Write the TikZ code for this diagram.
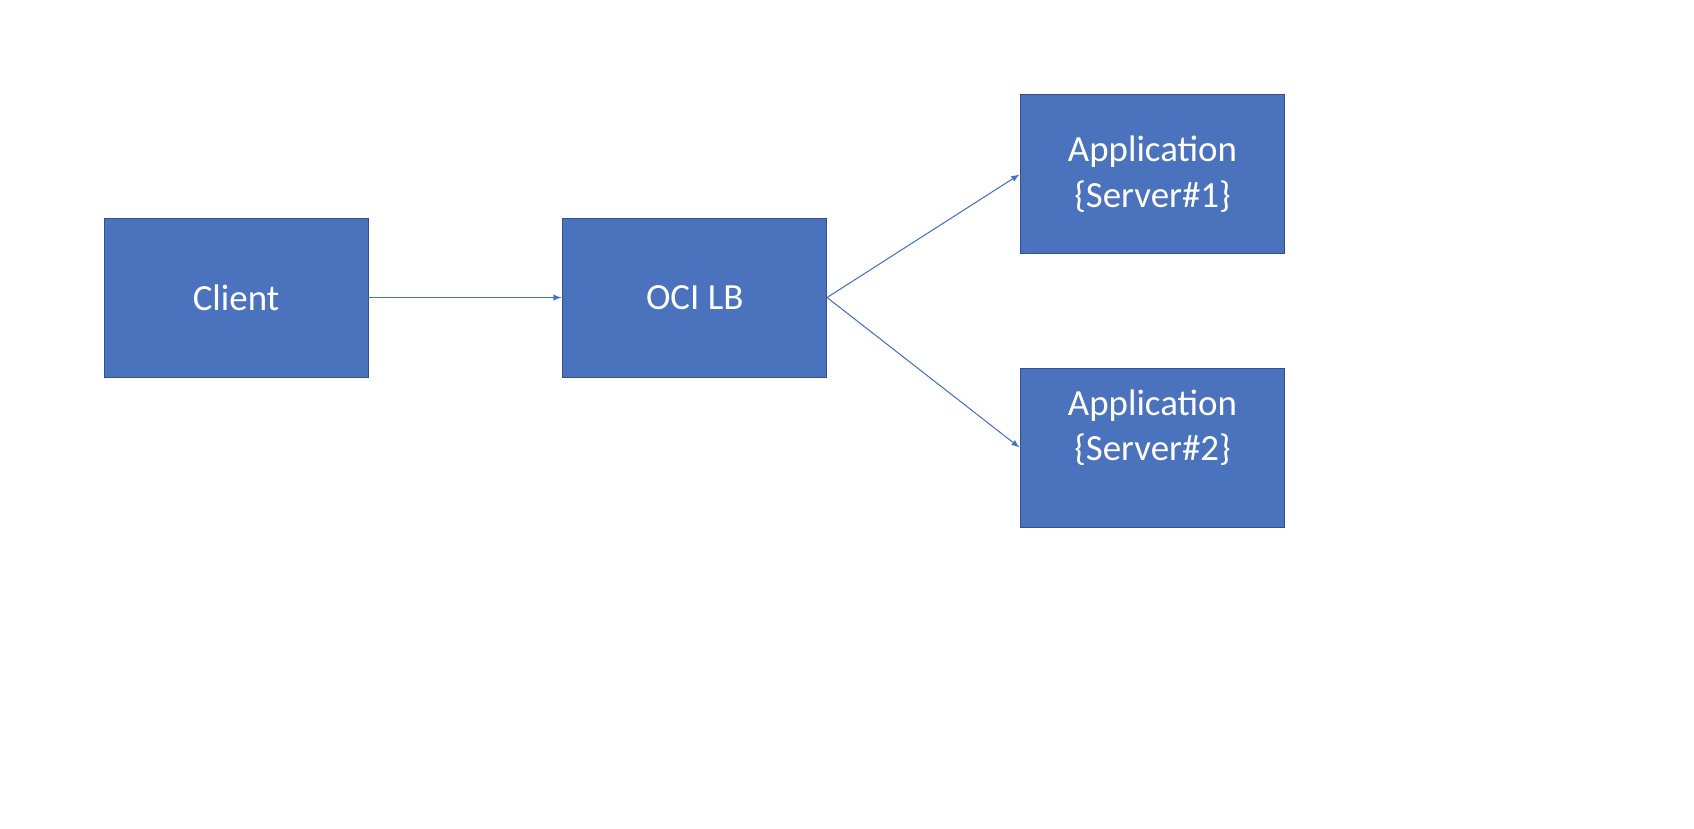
\documentclass[tikz,border=0pt]{standalone}
\usepackage{fontspec}
\setmainfont{Carlito}
\usetikzlibrary{shapes,arrows,positioning}
\definecolor{boxblue}{HTML}{4A72BD}
\definecolor{boxline}{HTML}{2F528F}
\definecolor{arrowblue}{HTML}{4472C4}
\begin{document}
\begin{tikzpicture}[node distance=3.88cm, auto]
    \tikzstyle{block} = [rectangle, draw=boxline, fill=boxblue, text=white, align=center, minimum width=5.28cm, minimum height=3.18cm, font=\fontsize{21}{26}\selectfont]
    \tikzstyle{arrow} = [arrowblue, line width=0.6pt, ->, >=latex, shorten >=0.5pt]
    \useasboundingbox (0,0) rectangle (33.88,-16.56);

    % Client
    \node [block] (client) at (4.72,-5.95) {Client};

    % Load balancer
    \node [block, right=of client] (lb) {OCI LB};

    % Servers
    \node [block] (server1) at (23.05,-3.48) {Application\\\{Server\#1\}};
    \node [block] (server2) at (23.05,-8.96) {Application\\\{Server\#2\}\\~};

    % Arrows
    \draw [arrow] (client) -- (lb);
    \draw [arrow] (lb.east) -- (server1.west);
    \draw [arrow] (lb.east) -- (server2.west);
\end{tikzpicture}
\end{document}
